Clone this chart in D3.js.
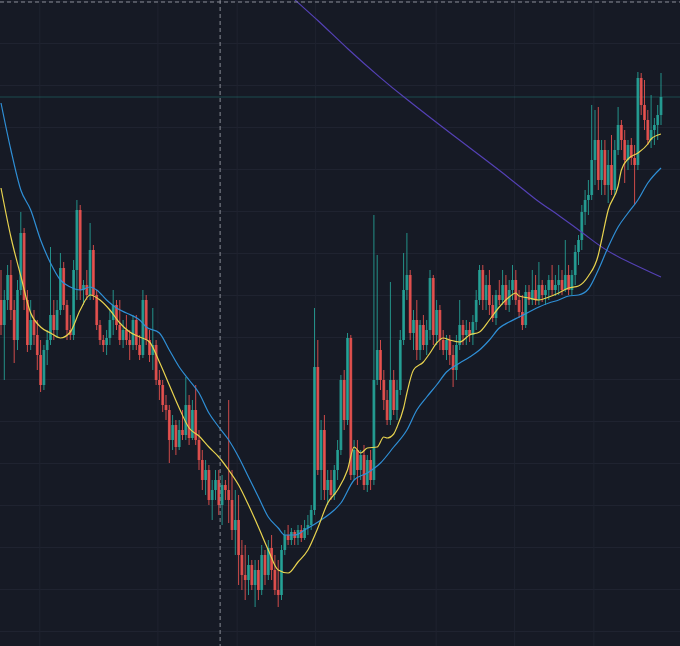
<!DOCTYPE html>
<html>
<head>
<meta charset="utf-8">
<script src="https://cdn.jsdelivr.net/npm/d3@7"></script>
<style>
  html, body { margin: 0; padding: 0; background: #161a25; overflow: hidden; }
</style>
</head>
<body>
<div id="container"></div>
<script>
// daily candles, open = previous close
const firstOpen = 346;
const high = [
  376,356,381,386,346,366,434,418,356,346,
  336,326,306,301,316,399,346,346,393,384,
  346,331,386,446,441,366,376,423,401,356,
  326,311,316,336,356,346,346,326,331,316,
  331,331,311,356,351,316,338,306,276,266,
  251,241,231,226,226,236,269,251,246,261,
  216,196,186,181,166,176,176,171,166,246,
  176,156,151,106,101,91,86,86,86,101,
  96,106,111,91,86,101,116,121,118,116,
  121,121,126,131,141,338,306,226,231,176,
  176,181,206,271,276,313,311,206,206,196,
  201,191,196,431,391,306,276,256,364,276,
  266,316,393,413,376,336,346,326,331,326,
  376,371,346,341,316,311,311,301,311,346,
  326,326,324,331,356,381,381,371,376,351,
  356,366,376,371,366,381,376,356,351,361,
  361,376,371,384,366,361,371,381,371,381,
  376,406,381,376,401,411,441,456,466,541,
  536,539,506,506,496,511,506,539,526,516,
  506,508,501,574,573,566,536,551,528,541,
  573
];
const low = [
  311,266,336,326,283,296,351,336,294,296,
  301,276,254,256,281,301,306,308,331,336,
  306,306,306,346,346,341,346,346,346,316,
  301,294,291,301,311,316,301,298,301,286,
  296,296,286,288,301,284,276,261,246,234,
  226,183,196,191,196,206,206,201,206,201,
  176,156,151,141,126,146,131,121,146,123,
  106,91,61,56,46,51,56,39,46,51,
  61,66,66,51,39,46,91,101,101,101,
  101,104,106,111,116,131,171,146,146,141,
  146,146,166,191,216,221,166,166,161,166,
  156,154,156,161,261,256,236,221,221,231,
  226,251,301,346,306,296,286,286,296,291,
  306,301,301,296,291,286,281,259,266,296,
  301,301,304,301,316,341,336,336,331,324,
  321,341,341,336,334,346,341,328,316,318,
  341,341,341,341,344,341,346,351,350,351,
  351,354,351,351,361,381,396,421,431,446,
  461,456,451,451,443,451,451,491,496,463,
  476,481,441,476,531,516,501,498,501,506,
  521
];
const close = [
  321,346,371,336,306,356,413,346,301,326,
  311,291,261,296,306,331,316,336,378,341,
  316,311,376,436,356,361,351,396,351,321,
  306,301,308,326,341,321,306,316,306,301,
  326,301,291,346,306,291,301,266,261,241,
  236,206,221,199,216,211,241,208,236,206,
  186,166,176,146,156,166,141,161,156,146,
  116,126,91,71,66,81,61,76,56,91,
  71,98,76,56,51,96,111,106,114,108,
  116,108,118,121,136,279,176,216,156,166,
  151,176,196,266,226,308,171,196,176,191,
  161,186,166,266,296,266,246,226,266,236,
  256,306,356,371,313,326,296,321,301,316,
  368,311,336,306,296,306,291,276,301,321,
  311,316,311,324,346,376,346,361,341,328,
  351,346,361,341,356,366,346,334,321,354,
  346,356,346,361,351,356,366,356,361,366,
  356,371,356,371,394,406,434,446,451,486,
  506,466,496,461,481,456,496,521,506,486,
  501,488,481,568,541,526,506,516,521,531,
  549
];

// moving averages
const maFastDays = [0,3,6,9,12,15,18,21,24,27,30,33,36,39,42,45,48,51,54,57,60,63,66,69,72,75,78,81,84,87,90,93,96,99,102,105,107,109,111,114,116,117,119,120,122,123,125,128,130,132,134,136,139,142,145,148,151,154,156,157,160,163,166,169,172,175,178,181,182,184,187,188,190,193,196,197,200];
const maFastValues = [458,409,370,333,319,313,308,314,336,351,346,336,323,314,309,304,284,261,238,218,210,199,189,176,161,141,119,96,76,73,84,96,118,143,156,176,199,193,198,199,209,208,212,219,238,253,276,284,293,303,308,306,304,311,314,326,339,349,353,350,348,346,349,353,358,360,370,391,406,436,460,476,487,493,502,507,512];

const maMidDays = [0,3,6,9,12,15,18,21,24,27,29,32,35,38,42,44,48,51,54,57,60,63,66,69,72,75,78,81,84,86,89,92,97,101,103,107,111,115,119,123,126,129,132,135,139,142,145,148,151,154,157,160,163,166,169,172,175,178,181,184,187,190,193,196,200];
const maMidValues = [543,496,456,436,406,383,366,359,356,359,356,346,338,333,326,319,313,296,279,266,253,233,219,206,189,169,149,129,118,111,111,116,126,136,143,166,173,183,199,216,236,249,261,274,283,289,296,306,318,324,329,334,339,343,346,350,351,357,376,399,419,433,446,463,478];

const maSlowDays = [82,89,96,105,115,122,136,155,162,169,178,184,200];
const maSlowValues = [668,646,626,597,568,549,513,466,446,431,409,393,369];

const priceTicks = [15,57,99,141,183,225,267,309,351,393,435,477,519,561,603,645];
const dayTicks = [11.6,47.4,71.4,95.2,131.7,155.5,179.5];
const crosshairDay = 66.4;
const crosshairValue = 644;

const w = 680;
const h = 646;

const candles = close.map((c, i) => ({
  i: i,
  open: i === 0 ? firstOpen : close[i - 1],
  high: high[i],
  low: low[i],
  close: c,
}));

const svg = d3
  .select("#container")
  .append("svg")
  .attr("width", w)
  .attr("height", h);

svg.append("rect").attr("width", w).attr("height", h).attr("fill", "#161a25");

const xScale = d3.scaleLinear().domain([0, close.length - 1]).range([1, 661]);
const yScale = d3.scaleLinear().domain([0, 646]).range([646, 0]);

// grid
svg
  .append("g")
  .attr("class", "grid")
  .call(d3.axisLeft(yScale).tickValues(priceTicks).tickSize(-w).tickFormat(""))
  .call((g) => g.select(".domain").remove())
  .call((g) => g.selectAll("line").attr("stroke", "#1f2330"));
svg
  .append("g")
  .attr("class", "grid")
  .attr("transform", `translate(0,${h})`)
  .call(d3.axisBottom(xScale).tickValues(dayTicks).tickSize(-h).tickFormat(""))
  .call((g) => g.select(".domain").remove())
  .call((g) => g.selectAll("line").attr("stroke", "#1f2330"));

// last price line
const last = close[close.length - 1];
svg
  .append("line")
  .attr("x1", 0)
  .attr("x2", w)
  .attr("y1", yScale(last))
  .attr("y2", yScale(last))
  .attr("stroke", "#26a69a")
  .attr("stroke-opacity", 0.35)
  .attr("stroke-width", 1);

const bodyW = 2.8;
const up = "#26a69a";
const down = "#ef5350";

const g = svg.append("g").attr("class", "candles");
g.selectAll(".wick")
  .data(candles)
  .join("line")
  .attr("class", "wick")
  .attr("x1", (d) => xScale(d.i))
  .attr("x2", (d) => xScale(d.i))
  .attr("y1", (d) => yScale(d.high))
  .attr("y2", (d) => yScale(d.low))
  .attr("stroke", (d) => (d.close >= d.open ? up : down))
  .attr("stroke-width", 1)
  .attr("stroke-opacity", 0.85);
g.selectAll(".body")
  .data(candles)
  .join("rect")
  .attr("class", "body")
  .attr("x", (d) => xScale(d.i) - bodyW / 2)
  .attr("width", bodyW)
  .attr("y", (d) => yScale(Math.max(d.open, d.close)))
  .attr("height", (d) => Math.max(1, Math.abs(yScale(d.open) - yScale(d.close))))
  .attr("fill", (d) => (d.close >= d.open ? up : down))
  .attr("fill-opacity", 0.85);

function maLine(days, values, color, curve) {
  const pts = days.map((d, k) => [d, values[k]]);
  const line = d3
    .line()
    .x((p) => xScale(p[0]))
    .y((p) => yScale(p[1]))
    .curve(curve);
  svg
    .append("path")
    .datum(pts)
    .attr("fill", "none")
    .attr("stroke", color)
    .attr("stroke-width", 1.2)
    .attr("d", line);
}

maLine(maSlowDays, maSlowValues, "#5441b5", d3.curveBasis);
maLine(maMidDays, maMidValues, "#2f8fd6", d3.curveMonotoneX);
maLine(maFastDays, maFastValues, "#e8d34f", d3.curveMonotoneX);

// crosshair
svg
  .append("line")
  .attr("x1", xScale(crosshairDay))
  .attr("x2", xScale(crosshairDay))
  .attr("y1", 0)
  .attr("y2", h)
  .attr("stroke", "#8a8d97")
  .attr("stroke-width", 1)
  .attr("stroke-dasharray", "4,3");
svg
  .append("line")
  .attr("x1", 0)
  .attr("x2", w)
  .attr("y1", yScale(crosshairValue))
  .attr("y2", yScale(crosshairValue))
  .attr("stroke", "#8a8d97")
  .attr("stroke-width", 1)
  .attr("stroke-dasharray", "4,3");
</script>
</body>
</html>
